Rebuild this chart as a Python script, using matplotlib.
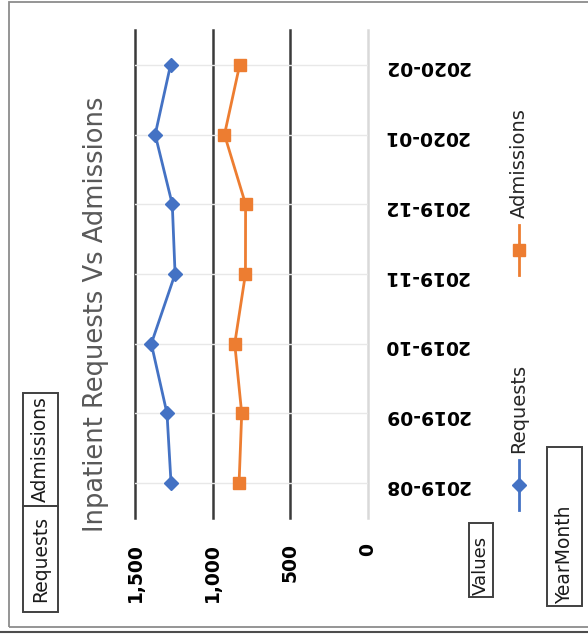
import numpy as np
import matplotlib.pyplot as plt
from matplotlib.lines import Line2D
from matplotlib.patches import Rectangle
from matplotlib.ticker import FuncFormatter

months = ['2019-08', '2019-09', '2019-10', '2019-11', '2019-12', '2020-01', '2020-02']
requests = [1268, 1294, 1395, 1242, 1260, 1370, 1271]
admissions = [830, 813, 858, 789, 788, 924, 826]
value_ticks = [0, 500, 1000, 1500]
title = 'Inpatient Requests Vs Admissions'

W, H = 588, 634
BLUE = '#4472C4'
ORANGE = '#ED7D31'


def fx(x):
    return x / W


def fy(y):
    return 1 - y / H


fig = plt.figure(figsize=(W / 100, H / 100), dpi=100)

# chart is laid out sideways: values run right-to-left, months bottom-to-top
ax = fig.add_axes([fx(135), fy(518), (368 - 135) / W, (518 - 30) / H])
pos = np.arange(len(months))
ax.plot(requests, pos, color=BLUE, lw=2, marker='D', ms=7, zorder=3)
ax.plot(admissions, pos, color=ORANGE, lw=2, marker='s', ms=9, zorder=3)

ax.set_xlim(max(value_ticks), 0)
ax.set_ylim(-0.5, len(months) - 0.5)
ax.set_xticks(value_ticks)
ax.xaxis.set_major_formatter(FuncFormatter(lambda v, p: f'{v:,.0f}'))
ax.set_yticks(pos, months)
ax.yaxis.tick_right()

ax.tick_params(axis='x', length=0, pad=18, labelrotation=90, labelsize=13.5)
ax.tick_params(axis='y', length=0, pad=11, labelrotation=180, labelsize=13.5)
for lab in ax.get_xticklabels() + ax.get_yticklabels():
    lab.set_fontweight('bold')

ax.grid(axis='x', color='#3a3a3a', lw=1.8)
ax.grid(axis='y', color='#e8e8e8', lw=1)
ax.set_axisbelow(True)
for line, v in zip(ax.get_xgridlines(), value_ticks):
    line.set_clip_on(False)
    if v == 0:
        line.set_color('#d9d9d9')
for s in ax.spines.values():
    s.set_visible(False)

fig.text(fx(96), fy(314), title, rotation=90, ha='center', va='center',
         fontsize=18.5, color='#595959')

# legend, drawn by hand because it is turned on its side
for name, color, marker, ms, y_mid in [('Requests', BLUE, 'D', 7, 485),
                                       ('Admissions', ORANGE, 's', 9, 250)]:
    fig.add_artist(Line2D([fx(519)] * 2, [fy(y_mid + 25), fy(y_mid - 25)],
                          color=color, lw=2, transform=fig.transFigure))
    fig.add_artist(Line2D([fx(519)], [fy(y_mid)], color=color, marker=marker,
                          ms=ms, transform=fig.transFigure))
    fig.text(fx(519), fy(y_mid - 32), name, rotation=90, rotation_mode='anchor',
             ha='left', va='center', fontsize=14, color='#262626')

# pivot field buttons
def field_button(x0, x1, y0, y1, label, size=13.5, center=True):
    fig.add_artist(Rectangle((fx(x0), fy(y1)), (x1 - x0) / W, (y1 - y0) / H,
                             transform=fig.transFigure, fill=False,
                             edgecolor='#404040', lw=1.4))
    if center:
        fig.text(fx((x0 + x1) / 2), fy((y0 + y1) / 2), label, rotation=90,
                 ha='center', va='center', fontsize=size, color='#1a1a1a')
    else:
        fig.text(fx((x0 + x1) / 2), fy(y1 - 2), label, rotation=90,
                 rotation_mode='anchor', ha='left', va='center',
                 fontsize=size, color='#1a1a1a')


field_button(23, 58, 506, 612, 'Requests')
field_button(23, 58, 393, 506, 'Admissions')
field_button(469, 493, 523, 597, 'Values', size=13, center=False)
field_button(547, 582, 447, 606, 'YearMonth', size=13.5, center=False)

# outer chart frame
fig.add_artist(Rectangle((fx(9), fy(627)), (600 - 9) / W, (627 - 2) / H,
                         transform=fig.transFigure, fill=False,
                         edgecolor='#8c8c8c', lw=1.3))
fig.add_artist(Line2D([0, 1], [fy(632)] * 2, color='#4d4d4d', lw=1.5,
                      transform=fig.transFigure))

fig.savefig('out.png', dpi=100)
